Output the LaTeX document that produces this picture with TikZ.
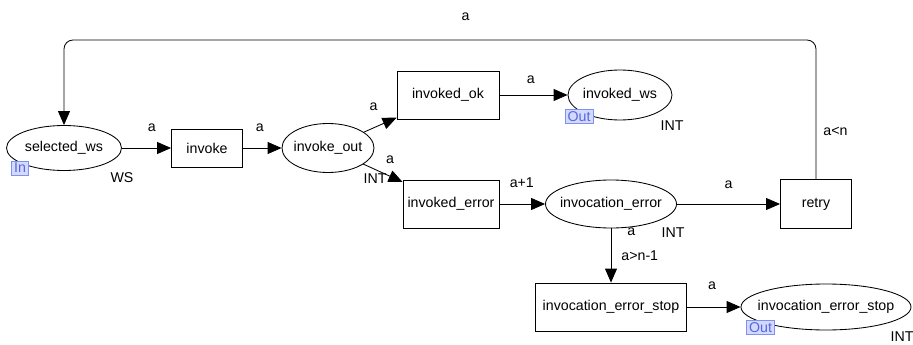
\documentclass[tikz,border=0pt]{standalone}
\usepackage{fontspec}
\setmainfont{Liberation Sans}
\usetikzlibrary{arrows.meta,positioning,shapes.geometric}

\definecolor{portline}{HTML}{8090F0}
\definecolor{portfill}{HTML}{D4DAFF}
\definecolor{porttext}{HTML}{5567E0}

\tikzset{
  place/.style={ellipse,draw,inner xsep=-12pt,inner ysep=0pt},
  trans/.style={rectangle,draw,inner sep=0pt},
  port/.style={draw=portline,fill=portfill,text=porttext,line width=0.7pt,inner xsep=2.5pt,inner ysep=2pt},
  lab/.style={inner sep=0pt},
}

\begin{document}
\begin{tikzpicture}[on grid,>={Triangle[length=14pt,width=12pt]},line width=0.85pt,
    font=\fontsize{14.2pt}{17pt}\selectfont]
  \useasboundingbox (0,0) rectangle (913pt,-345pt);

  \node[place,minimum width=115pt,minimum height=45pt] (sel) at (64pt,-148pt) {selected\_ws};
  \node[trans,minimum width=71pt,minimum height=38pt] (invoke) [right=143pt of sel] {invoke};
  \node[place,minimum width=92pt,minimum height=49pt] (iout) [right=121pt of invoke] {invoke\_out};
  \node[trans,minimum width=102pt,minimum height=48pt] (ok) [above right=53pt and 120pt of iout] {invoked\_ok};
  \node[trans,minimum width=96pt,minimum height=48pt] (err) [below right=56pt and 123pt of iout] {invoked\_error};
  \node[place,minimum width=104pt,minimum height=50pt] (iws) [right=172pt of ok] {invoked\_ws};
  \node[place,minimum width=131pt,minimum height=48pt] (ierr) [right=160pt of err] {invocation\_error};
  \node[trans,minimum width=71pt,minimum height=49pt] (retry) [right=205pt of ierr] {retry};
  \node[trans,minimum width=151pt,minimum height=48pt] (estop) [below=103pt of ierr] {invocation\_error\_stop};
  \node[place,minimum width=170pt,minimum height=46pt] (pstop) [right=215pt of estop] {invocation\_error\_stop};

  % port tags
  \node[port] (sel_in) [below left=20pt and 44pt of sel] {In};
  \node[port] (iws_out) [below left=21.5pt and 41pt of iws] {Out};
  \node[port] (pstop_out) [below left=20.5pt and 65.5pt of pstop] {Out};

  % colour sets
  \node[lab] (sel_c) [below right=30pt and 58pt of sel] {WS};
  \node[lab] (iout_c) [below right=31pt and 47pt of iout] {INT};
  \node[lab] (iws_c) [below right=31pt and 52pt of iws] {INT};
  \node[lab] (ierr_c) [below right=29pt and 62pt of ierr] {INT};
  \node[lab] (pstop_c) [below right=30pt and 76pt of pstop] {INT};

  \coordinate (top) at (0pt,-40pt);

  \path[->]
    (sel) edge node[lab,pos=.61,yshift=20pt] {a} (invoke)
    (invoke) edge node[lab,pos=.44,yshift=20pt] {a} (iout)
    (iout) edge node[lab,pos=.3,yshift=21pt] {a} (ok)
    (iout) edge node[lab,pos=.68,yshift=17pt] {a} (err)
    (ok) edge node[lab,pos=.46,yshift=15pt] {a} (iws)
    (err) edge node[lab,pos=.49,yshift=21pt] {a+1} (ierr)
    (ierr) edge node[lab,pos=.5,yshift=19pt] {a} (retry)
    (ierr) edge node[lab,pos=.07,anchor=west,xshift=16pt] {a}
                node[lab,pos=.51,anchor=west,xshift=10pt] {a>n-1} (estop)
    (estop) edge node[lab,pos=.47,yshift=21pt] {a} (pstop);

  \draw[->,rounded corners=9pt] (retry.north)
    -- node[lab,pos=.34,anchor=west,xshift=7pt] {a<n} (retry |- top)
    -- node[lab,pos=.466,yshift=23pt] {a} (sel |- top)
    -- (sel.north);
\end{tikzpicture}
\end{document}
